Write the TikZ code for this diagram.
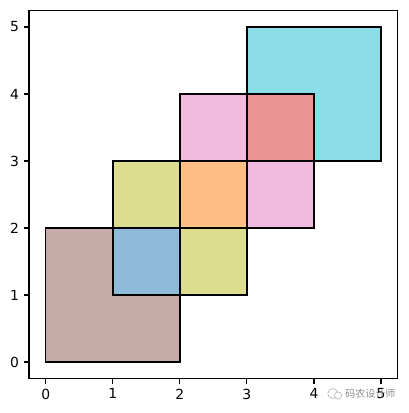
\documentclass[tikz,border=0pt]{standalone}
\usepackage{fontspec}
\setmainfont{DejaVu Sans}
\newfontfamily\cjk{Noto Sans CJK SC}
\usepackage{tikz}

\definecolor{tabbrown}{HTML}{C5AAA5}
\definecolor{tabblue}{HTML}{8FBBD9}
\definecolor{tabolive}{HTML}{DDDD90}
\definecolor{taborange}{HTML}{FFBF86}
\definecolor{tabpink}{HTML}{F1BBE0}
\definecolor{tabred}{HTML}{EA9393}
\definecolor{tabcyan}{HTML}{8BDEE7}

\begin{document}
\begin{tikzpicture}[
  x=67.04pt, y=67pt,
  cell/.style={draw=black, line width=1.4pt},
  spine/.style={draw=black, line width=1.1pt},
  ticklabel/.style={font=\fontsize{13.9}{16}\selectfont, text=black, inner sep=0pt},
  mark_text/.style={font=\cjk\fontsize{10}{12}\selectfont, text=black!45, inner sep=0pt}
]
\useasboundingbox (-45.8pt,-51pt) rectangle (362.2pt,362pt);

% Squares, drawn in order
\draw [cell, fill=tabbrown] (0,0) rectangle (2,2);
\draw [cell, fill=tabblue] (1,1) rectangle (2,2);
\draw [cell, fill=tabolive] (2,1) rectangle (3,2);
\draw [cell, fill=tabolive] (1,2) rectangle (2,3);
\draw [cell, fill=taborange] (2,2) rectangle (3,3);
\draw [cell, fill=tabpink] (3,2) rectangle (4,3);
\draw [cell, fill=tabpink] (2,3) rectangle (3,4);
\draw [cell, fill=tabcyan] (3,3) rectangle (5,5);
\draw [cell, fill=tabred] (3,3) rectangle (4,4);

% Axes frame
\draw [spine] (-0.25,-0.25) rectangle (5.25,5.25);

% Ticks and labels
\foreach \k in {0,...,5} {
  \draw [spine] (\k,-0.25) -- ++(0,-4.9pt);
  \node (xl\k) [ticklabel, anchor=north] at ([yshift=-9.8pt]\k,-0.25) {\k};
  \draw [spine] (-0.25,\k) -- ++(-4.9pt,0);
  \node (yl\k) [ticklabel, anchor=east] at ([xshift=-9.8pt]-0.25,\k) {\k};
}

% Watermark
\draw [black!30, line width=0.6pt] (4.28,-0.47) circle (5pt);
\draw [black!30, line width=0.6pt, fill=white] (4.36,-0.50) circle (3.6pt);
\node (mark) [mark_text] at (4.84,-0.48) {码农设计师};

\end{tikzpicture}
\end{document}
